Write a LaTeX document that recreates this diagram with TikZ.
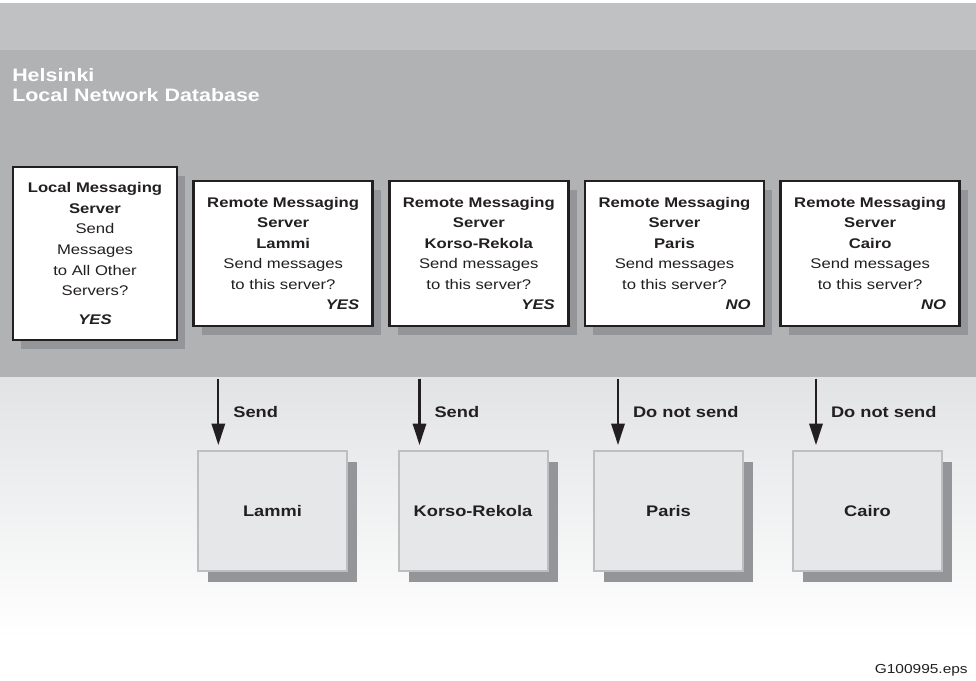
\documentclass[tikz,border=0pt]{standalone}
\usepackage{fontspec}
\setmainfont{Liberation Sans}[FakeStretch=1.19]
\usetikzlibrary{arrows.meta,positioning,shadows}
\definecolor{InkBlack}{HTML}{231F20}
\definecolor{StripGray}{HTML}{C0C1C3}
\definecolor{BandGray}{HTML}{B1B2B4}
\definecolor{FloorGray}{HTML}{E2E3E5}
\definecolor{ShadowGray}{HTML}{939598}
\definecolor{EdgeGray}{HTML}{BDBEC0}
\definecolor{PaleGray}{HTML}{E6E7E8}
\newcommand{\answer}[1]{\\\hspace*{\fill}\textbf{\textit{#1}}}

\begin{document}
\begin{tikzpicture}[
    x=0.75pt,y=-0.75pt,
    node distance=10.5pt and 10.5pt,
    srvbox/.style={draw=InkBlack,line width=2pt,fill=white,text=InkBlack,
      drop shadow={shadow xshift=6.25pt,shadow yshift=-6.75pt,fill=ShadowGray,opacity=1},
      align=center,inner sep=0pt,font=\fontsize{10.5pt}{15.4pt}\selectfont},
    localsrv/.style={srvbox,text width=112pt,minimum width=123pt,minimum height=129.75pt},
    remotesrv/.style={srvbox,text width=114pt,minimum width=134.25pt,minimum height=108.75pt},
    site/.style={draw=EdgeGray,line width=1.5pt,fill=PaleGray,text=InkBlack,
      drop shadow={shadow xshift=7.5pt,shadow yshift=-8.25pt,fill=ShadowGray,opacity=1},
      minimum width=111.75pt,minimum height=90pt,
      font=\bfseries\fontsize{11.5pt}{14pt}\selectfont},
    sendarr/.style={-{Triangle[length=16pt,width=10pt]},line width=1.6pt,draw=InkBlack},
    lbl/.style={text=InkBlack,inner sep=0pt,font=\bfseries\fontsize{11.5pt}{14pt}\selectfont},
    title/.style={text=white,align=left,inner sep=0pt,font=\bfseries\fontsize{13.5pt}{15pt}\selectfont}
  ]
    \useasboundingbox (0,0) rectangle (976,681);
    \fill[white] (0,0) rectangle (976,681);
    \fill[StripGray] (0,3) rectangle (976,50);
    \node[fill=BandGray,inner sep=0pt,minimum width=732pt,minimum height=246pt,anchor=north west] (db) at (0,50) {};
    \shade[top color=FloorGray,bottom color=white] (0,378) rectangle (976,640);
    \node[title,anchor=north west] (helsinki) at (12,68) {Helsinki\\Local Network Database};

    \node[localsrv] (local) at (95,253.5) {\textbf{Local Messaging}\\\textbf{Server}\\Send\\Messages\\to All Other\\Servers?\\[6pt]\textbf{\textit{YES}}};
    \node[remotesrv,right=of local] (lammi) {\textbf{Remote Messaging}\\\textbf{Server}\\\textbf{Lammi}\\Send messages\\to this server?\answer{YES}};
    \node[remotesrv,right=of lammi] (korso) {\textbf{Remote Messaging}\\\textbf{Server}\\\textbf{Korso-Rekola}\\Send messages\\to this server?\answer{YES}};
    \node[remotesrv,right=of korso] (paris) {\textbf{Remote Messaging}\\\textbf{Server}\\\textbf{Paris}\\Send messages\\to this server?\answer{NO}};
    \node[remotesrv,right=of paris] (cairo) {\textbf{Remote Messaging}\\\textbf{Server}\\\textbf{Cairo}\\Send messages\\to this server?\answer{NO}};

    \node[site] (lammiB) at (272.5,511) {Lammi};
    \node[site] (korsoB) at (473,511) {Korso-Rekola};
    \node[site] (parisB) at (668.5,511) {Paris};
    \node[site] (cairoB) at (867.5,511) {Cairo};

    \draw[sendarr] ([xshift=16pt]lammiB.north west |- db.south) -- ([xshift=16pt,yshift=3.75pt]lammiB.north west) node[lbl,midway,right=10.5pt] (sendA) {Send};
    \draw[sendarr] ([xshift=16.5pt]korsoB.north west |- db.south) -- ([xshift=16.5pt,yshift=3.75pt]korsoB.north west) node[lbl,midway,right=10.5pt] (sendB) {Send};
    \draw[sendarr] ([xshift=18.75pt]parisB.north west |- db.south) -- ([xshift=18.75pt,yshift=3.75pt]parisB.north west) node[lbl,midway,right=10.5pt] (skipA) {Do not send};
    \draw[sendarr] ([xshift=18pt]cairoB.north west |- db.south) -- ([xshift=18pt,yshift=3.75pt]cairoB.north west) node[lbl,midway,right=10.5pt] (skipB) {Do not send};

    \node[text=InkBlack,inner sep=0pt,anchor=base east,font=\fontsize{9.75pt}{12pt}\selectfont] (fig) at (968,673) {G100995.eps};
  \end{tikzpicture}
\end{document}
